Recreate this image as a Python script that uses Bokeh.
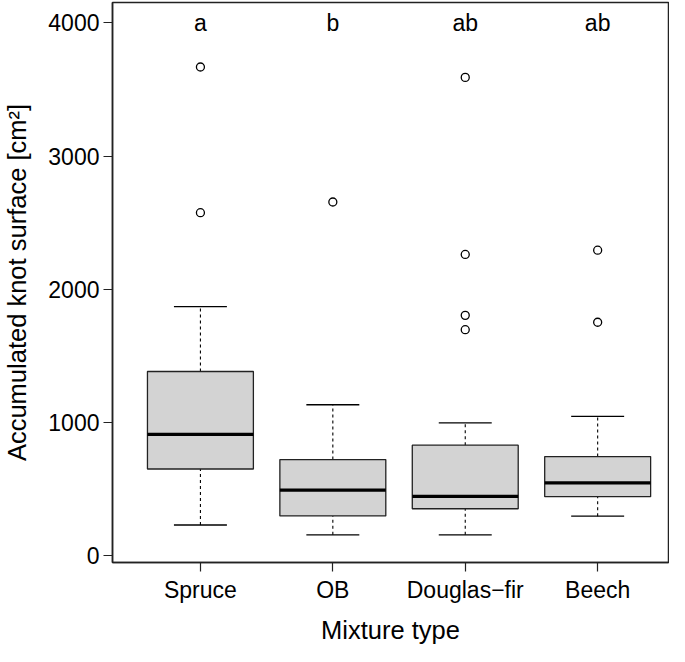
from bokeh.plotting import figure
from bokeh.models import Range1d, FixedTicker, ColumnDataSource
from bokeh.core.properties import value
from bokeh.embed import file_html
from bokeh.resources import INLINE

# ---- data ----
categories = ["Spruce", "OB", "Douglas\u2212fir", "Beech"]
lower_whisker = [226, 152, 152, 292]
q1 = [647, 294, 348, 439]
median = [907, 488, 441, 542]
q3 = [1380, 718, 826, 740]
upper_whisker = [1868, 1130, 993, 1042]
outliers = {
    "Spruce": [2574, 3669],
    "OB": [2654],
    "Douglas\u2212fir": [1694, 1802, 2260, 3591],
    "Beech": [1750, 2292],
}
letters = ["a", "b", "ab", "ab"]
letter_level = 4000
y_ticks = [0, 1000, 2000, 3000, 4000]

FONT = "Liberation Sans"
xs = list(range(1, len(categories) + 1))
box_w = 0.8
cap_w = 0.4

p = figure(width=669, height=646, output_backend="svg", toolbar_location=None,
           x_range=Range1d(0.336, 4.535), y_range=Range1d(-56, 4154),
           min_border_left=111, min_border_right=1, min_border_top=2,
           min_border_bottom=80)
p.xgrid.visible = False
p.ygrid.visible = False
p.outline_line_color = "#222222"
p.outline_line_width = 1.5
p.background_fill_color = "white"
p.border_fill_color = "white"

# axes
for ax in (p.xaxis[0], p.yaxis[0]):
    ax.axis_line_color = "#222222"
    ax.axis_line_width = 1.5
    ax.major_tick_line_color = "#222222"
    ax.major_tick_line_width = 1.2
    ax.major_tick_in = 0
    ax.major_tick_out = 9
    ax.minor_tick_line_color = None
    ax.major_label_text_font = FONT
    ax.major_label_text_font_size = "23px"
    ax.major_label_text_color = "black"
    ax.axis_label_text_font = FONT
    ax.axis_label_text_font_size = "25.5px"
    ax.axis_label_text_font_style = "normal"
    ax.axis_label_text_color = "black"

p.xaxis.ticker = FixedTicker(ticks=xs)
p.xaxis.major_label_overrides = {x: c for x, c in zip(xs, categories)}
p.xaxis.axis_label = "Mixture type"
p.xaxis.major_label_standoff = 5
p.xaxis.axis_label_standoff = 10

p.yaxis.ticker = FixedTicker(ticks=y_ticks)
p.yaxis.major_label_orientation = "horizontal"
p.yaxis.axis_label = "Accumulated knot surface [cm\u00b2]"
p.yaxis.major_label_standoff = 4
p.yaxis.axis_label_standoff = 14

src = ColumnDataSource(dict(
    x=xs, lo=lower_whisker, q1=q1, med=median, q3=q3, hi=upper_whisker,
    left=[x - box_w / 2 for x in xs], right=[x + box_w / 2 for x in xs],
    cl=[x - cap_w / 2 for x in xs], cr=[x + cap_w / 2 for x in xs],
))

# whiskers (dashed)
p.segment(x0="x", y0="q3", x1="x", y1="hi", source=src, line_color="black",
          line_width=1.1, line_dash="3 3")
p.segment(x0="x", y0="lo", x1="x", y1="q1", source=src, line_color="black",
          line_width=1.1, line_dash="3 3")
# caps
p.segment(x0="cl", y0="hi", x1="cr", y1="hi", source=src, line_color="black", line_width=1.3)
p.segment(x0="cl", y0="lo", x1="cr", y1="lo", source=src, line_color="black", line_width=1.3)
# boxes
p.quad(left="left", right="right", bottom="q1", top="q3", source=src,
       fill_color="#d3d3d3", line_color="#222222", line_width=1.3)
# medians
p.segment(x0="left", y0="med", x1="right", y1="med", source=src,
          line_color="black", line_width=3.2)

# outliers
ox, oy = [], []
for x, c in zip(xs, categories):
    for v in outliers[c]:
        ox.append(x)
        oy.append(v)
p.scatter(ox, oy, marker="circle", size=8, fill_color=None,
          line_color="black", line_width=1.3)

# group letters
p.text(x=xs, y=[letter_level] * len(xs), text=letters,
       text_font=value(FONT), text_font_size="23px", text_color="black",
       text_align="center", text_baseline="middle")

open("out.html", "w").write(file_html(p, INLINE))
